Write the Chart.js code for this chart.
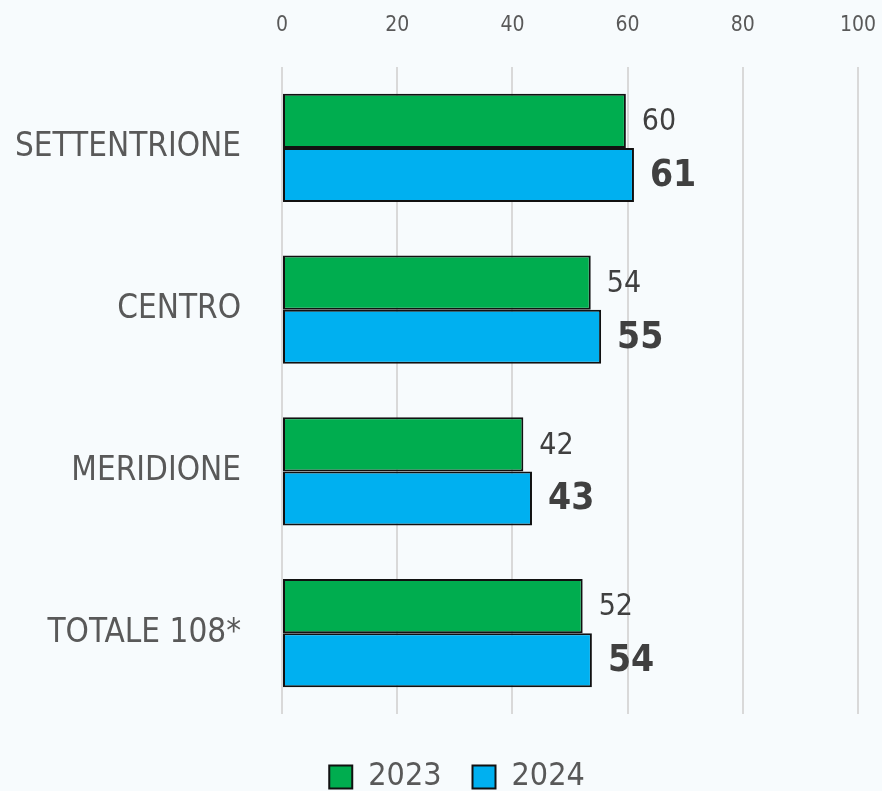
<!DOCTYPE html>
<html>
<head>
<meta charset="utf-8">
<script src="https://cdn.jsdelivr.net/npm/chart.js@4/dist/chart.umd.min.js"></script>
<style>
  html, body { margin: 0; padding: 0; background: #f7fbfd; }
  #wrap { width: 882px; height: 791px; }
</style>
</head>
<body>
<div id="wrap"><canvas id="c" width="882" height="791"></canvas></div>
<script>
const categories = ['SETTENTRIONE', 'CENTRO', 'MERIDIONE', 'TOTALE 108*'];
const values2023 = [59.7, 53.6, 41.9, 52.2];
const values2024 = [61.1, 55.4, 43.4, 53.8];
const seriesNames = ['2023', '2024'];
const xTicks = [0, 20, 40, 60, 80, 100];

const FONT = "'DejaVu Sans Condensed', 'DejaVu Sans', sans-serif";

const valueLabels = {
  id: 'valueLabels',
  afterDatasetsDraw(chart) {
    const ctx = chart.ctx;
    chart.data.datasets.forEach((ds, di) => {
      const meta = chart.getDatasetMeta(di);
      meta.data.forEach((bar, i) => {
        ctx.save();
        ctx.font = di === 0 ? "normal 30px " + FONT : "bold 37px " + FONT;
        ctx.fillStyle = '#404040';
        ctx.textAlign = 'left';
        ctx.textBaseline = 'middle';
        ctx.fillText(String(Math.round(ds.data[i])), bar.x + 16, bar.y + 1.5);
        ctx.restore();
      });
    });
  }
};

const legendShift = {
  id: 'legendShift',
  beforeDraw(chart) {
    if (chart.legend) { chart.legend.left = 32; chart.legend.right = 882; }
  }
};

new Chart(document.getElementById('c'), {
  type: 'bar',
  data: {
    labels: categories,
    datasets: [
      { label: seriesNames[0], data: values2023, backgroundColor: '#00ad4f', borderColor: '#111111', borderWidth: 2, borderSkipped: false },
      { label: seriesNames[1], data: values2024, backgroundColor: '#00b0f0', borderColor: '#111111', borderWidth: 2, borderSkipped: false }
    ]
  },
  options: {
    indexAxis: 'y',
    responsive: false,
    animation: false,
    devicePixelRatio: 1,
    datasets: { bar: { categoryPercentage: 0.668, barPercentage: 1.0 } },
    layout: { padding: { left: 0, right: 24, top: 0, bottom: -12 } },
    scales: {
      x: {
        position: 'top',
        min: 0, max: 100,
        afterBuildTicks: (scale) => { scale.ticks = xTicks.map(v => ({ value: v })); },
        afterFit: (scale) => { scale.height = 67; scale.paddingLeft = 0; scale.paddingRight = 0; },
        grid: { color: '#d9d9d9', lineWidth: 2, drawTicks: false },
        border: { display: false },
        ticks: { padding: 29, color: '#595959', font: { family: FONT, size: 21 } }
      },
      y: {
        afterFit: (scale) => { scale.width = 282; },
        grid: { display: false, drawTicks: false },
        border: { display: false },
        ticks: { padding: 41, color: '#595959', font: { family: FONT, size: 33 } }
      }
    },
    plugins: {
      tooltip: { enabled: false },
      legend: {
        position: 'bottom',
        title: { display: true, text: '', font: { size: 10 }, padding: { top: 0, bottom: 4 } },
        labels: {
          boxWidth: 23, boxHeight: 23, padding: 31,
          color: '#595959',
          font: { family: FONT, size: 32 }
        }
      }
    }
  },
  plugins: [valueLabels, legendShift]
});
</script>
</body>
</html>
